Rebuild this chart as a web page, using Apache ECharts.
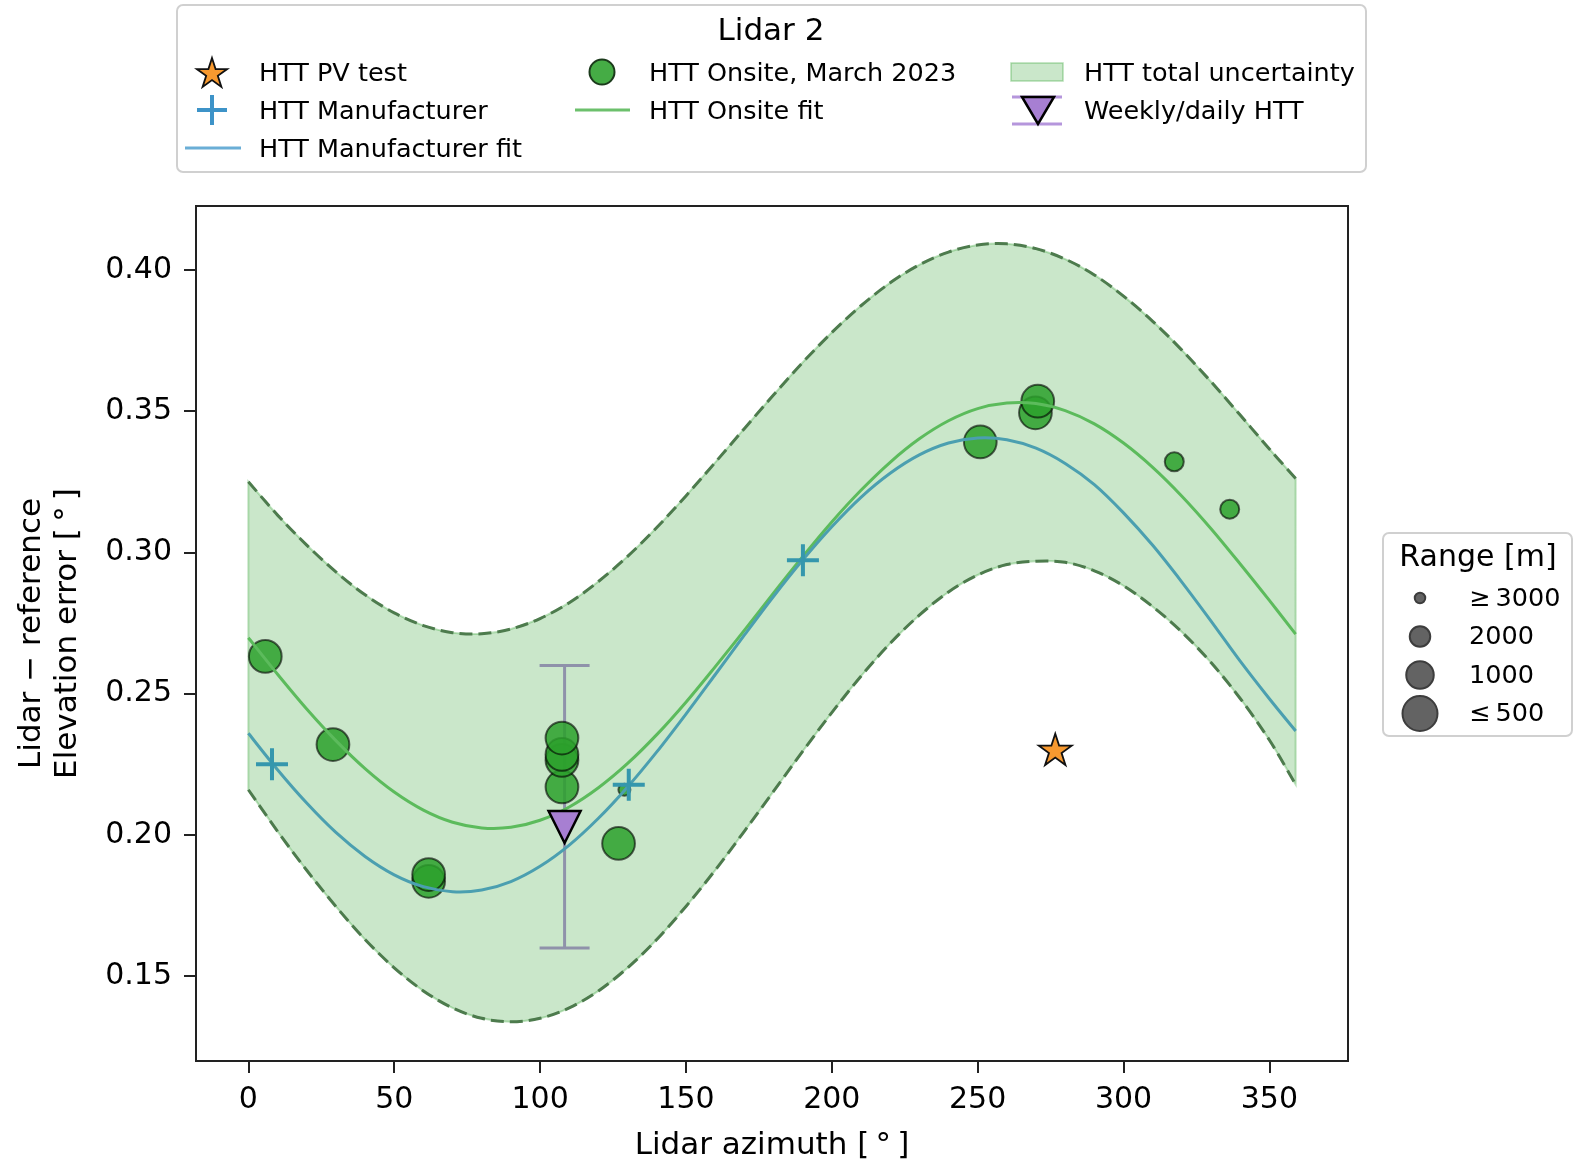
<!DOCTYPE html>
<html>
<head>
<meta charset="utf-8">
<title>Lidar 2 – elevation error vs azimuth</title>
<script src="https://cdn.jsdelivr.net/npm/echarts@6/dist/echarts.min.js"></script>
<style>
  html, body { margin: 0; padding: 0; background: #ffffff; }
  #chart { width: 1587px; height: 1166px; }
</style>
</head>
<body>
<div id="chart"></div>
<script>
// ---- data -------------------------------------------------------------
// azimuth grid on which the fitted curves and the uncertainty band are given [deg]
const azimuthGrid = [0, 10, 20, 30, 40, 50, 60, 70, 80, 90, 100, 110, 120, 130, 140, 150, 160, 170,
                     180, 190, 200, 210, 220, 230, 240, 250, 260, 270, 280, 290, 300, 310, 320,
                     330, 340, 350, 359];
const onsiteFit = [0.2698, 0.2569, 0.2446, 0.2334, 0.2235, 0.2152, 0.2088, 0.2045, 0.2025, 0.2027,
                   0.2052, 0.2099, 0.2167, 0.2253, 0.2355, 0.2470, 0.2595, 0.2724, 0.2856, 0.2985,
                   0.3108, 0.3220, 0.3319, 0.3402, 0.3466, 0.3509, 0.3529, 0.3527, 0.3502, 0.3455,
                   0.3387, 0.3301, 0.3199, 0.3084, 0.2959, 0.2830, 0.2711];
const manufacturerFit = [0.2360, 0.2231, 0.2113, 0.2009, 0.1924, 0.1859, 0.1817, 0.1799, 0.1805, 0.1835,
                         0.1889, 0.1964, 0.2059, 0.2170, 0.2294, 0.2428, 0.2567, 0.2707, 0.2844, 0.2973,
                         0.3091, 0.3195, 0.3280, 0.3345, 0.3387, 0.3405, 0.3399, 0.3369, 0.3315, 0.3240,
                         0.3140, 0.3025, 0.2895, 0.2757, 0.2615, 0.2482, 0.2368];
const uncertaintyUpper = [0.3250, 0.3132, 0.3026, 0.2931, 0.2850, 0.2786, 0.2741, 0.2716, 0.2712, 0.2729,
                          0.2766, 0.2822, 0.2897, 0.2986, 0.3088, 0.3200, 0.3318, 0.3438, 0.3557, 0.3672,
                          0.3778, 0.3873, 0.3954, 0.4018, 0.4063, 0.4088, 0.4092, 0.4075, 0.4038, 0.3982,
                          0.3907, 0.3818, 0.3716, 0.3604, 0.3486, 0.3366, 0.3262];
const uncertaintyLower = [0.2160, 0.2013, 0.1875, 0.1747, 0.1630, 0.1530, 0.1448, 0.1388, 0.1351, 0.1339,
                          0.1351, 0.1388, 0.1448, 0.1530, 0.1630, 0.1747, 0.1875, 0.2013, 0.2154, 0.2296,
                          0.2433, 0.2562, 0.2678, 0.2778, 0.2860, 0.2920, 0.2957, 0.2969, 0.2965, 0.2935,
                          0.2882, 0.2808, 0.2718, 0.2610, 0.2483, 0.2336, 0.2179];

// HTT onsite measurements, March 2023
const onsiteAzimuth = [5.8, 29.0, 61.8, 61.8, 107.5, 107.5, 107.5, 107.5, 126.9, 128.9,
                       250.9, 269.8, 270.6, 317.4, 336.4];
const onsiteError = [0.2632, 0.2320, 0.1836, 0.1860, 0.2170, 0.2264, 0.2285, 0.2343, 0.1970, 0.2160,
                     0.3391, 0.3494, 0.3535, 0.3321, 0.3153];
const onsiteRange = [650, 650, 650, 650, 650, 650, 650, 650, 650, 2850,
                     650, 650, 650, 2150, 2150];

// HTT manufacturer measurements
const manufacturerAzimuth = [8.1, 130.4, 190.1];
const manufacturerError = [0.2250, 0.2178, 0.2972];

// HTT PV test
const pvTestAzimuth = [276.6];
const pvTestError = [0.2303];

// weekly/daily HTT with its spread
const weeklyAzimuth = [108.4];
const weeklyError = [0.2028];
const weeklyLow = [0.16];
const weeklyHigh = [0.26];

// axis ticks
const xTicks = [0, 50, 100, 150, 200, 250, 300, 350];
const yTicks = [0.15, 0.20, 0.25, 0.30, 0.35, 0.40];

// range legend entries [m]
const rangeLegendValues = [3000, 2000, 1000, 500];
const rangeLegendLabels = ['\u2265\u20093000', '2000', '1000', '\u2264\u2009500'];

// ---- helpers ----------------------------------------------------------
const FONT = 'DejaVu Sans';
const zip = (xs, ys) => xs.map((x, i) => [x, ys[i]]);

// marker diameter (px) as a function of measurement range
const sizeStops = [[500, 35], [1000, 27.5], [2000, 20.5], [3000, 10.5]];
function rangeToSize(r) {
  if (r <= sizeStops[0][0]) return sizeStops[0][1];
  for (let i = 1; i < sizeStops.length; i++) {
    const [r0, s0] = sizeStops[i - 1], [r1, s1] = sizeStops[i];
    if (r <= r1) return s0 + (s1 - s0) * (r - r0) / (r1 - r0);
  }
  return sizeStops[sizeStops.length - 1][1];
}

// five-pointed star vertices around (cx, cy) with outer radius R
function starPoints(cx, cy, R) {
  const pts = [];
  for (let k = 0; k < 10; k++) {
    const rad = k % 2 === 0 ? R : R * 0.382;
    const a = (-90 + 36 * k) * Math.PI / 180;
    pts.push([cx + rad * Math.cos(a), cy + rad * Math.sin(a)]);
  }
  return pts;
}
const STAR = 'M' + starPoints(0, 0, 50).map(p => p[0].toFixed(2) + ',' + p[1].toFixed(2)).join('L') + 'Z';
const PLUS = 'M14,0H18V14H32V18H18V32H14V18H0V14H14Z';

// cubic Bezier segments (Catmull-Rom) through screen points, starting at pts[0]
function curveSegments(pts) {
  let d = '';
  const n = pts.length;
  for (let i = 0; i < n - 1; i++) {
    const p0 = pts[Math.max(i - 1, 0)], p1 = pts[i], p2 = pts[i + 1], p3 = pts[Math.min(i + 2, n - 1)];
    const c1x = p1[0] + (p2[0] - p0[0]) / 6, c1y = p1[1] + (p2[1] - p0[1]) / 6;
    const c2x = p2[0] - (p3[0] - p1[0]) / 6, c2y = p2[1] - (p3[1] - p1[1]) / 6;
    d += 'C' + [c1x, c1y, c2x, c2y, p2[0], p2[1]].map(v => v.toFixed(2)).join(',');
  }
  return d;
}

const C = {
  band: 'rgba(44,160,44,0.25)',
  bandEdge: 'rgba(44,160,44,0.3)',
  dash: '#4d7b4d',
  onsite: 'rgba(44,160,44,0.85)',
  onsiteEdge: 'rgba(0,0,0,0.6)',
  onsiteFit: '#5cbb5c',
  manufFit: '#4b9fb0',
  manufFitLegend: '#6aaed6',
  plus: '#3597ad',
  plusLegend: '#3d93c8',
  star: '#f7992f',
  tri: '#a77fd2',
  errbar: '#8f92aa',
  errbarLegend: '#b596dc'
};

// smooth curve through (azimuthGrid, ys), placed with the chart's own axes
function curveSeries(name, ys, style, z) {
  const data = zip(azimuthGrid, ys);
  return {
    name, type: 'custom', z, silent: true, data, encode: { x: 0, y: 1 },
    renderItem(params, api) {
      if (params.dataIndex !== 0) return null;
      const pts = data.map(d => api.coord(d));
      return {
        type: 'path',
        shape: { pathData: 'M' + pts[0][0].toFixed(2) + ',' + pts[0][1].toFixed(2) + curveSegments(pts) },
        style: Object.assign({ fill: 'none' }, style)
      };
    }
  };
}

// ---- chart ------------------------------------------------------------
const chart = echarts.init(document.getElementById('chart'), null, { renderer: 'canvas' });

const bandData = azimuthGrid.map((x, i) => [x, uncertaintyLower[i], uncertaintyUpper[i]]);

const series = [
  {
    name: 'HTT total uncertainty', type: 'custom', z: 1, silent: true,
    data: bandData, encode: { x: 0, y: [1, 2] },
    renderItem(params, api) {
      if (params.dataIndex !== 0) return null;
      const up = bandData.map(d => api.coord([d[0], d[2]]));
      const lo = bandData.map(d => api.coord([d[0], d[1]])).reverse();
      const pathData = 'M' + up[0][0].toFixed(2) + ',' + up[0][1].toFixed(2) + curveSegments(up) +
        'L' + lo[0][0].toFixed(2) + ',' + lo[0][1].toFixed(2) + curveSegments(lo) + 'Z';
      return {
        type: 'path', shape: { pathData },
        style: { fill: C.band, stroke: C.bandEdge, lineWidth: 2 }
      };
    }
  },
  curveSeries('band-upper', uncertaintyUpper, { stroke: C.dash, lineWidth: 3, lineDash: [13, 6] }, 2),
  curveSeries('band-lower', uncertaintyLower, { stroke: C.dash, lineWidth: 3, lineDash: [13, 6] }, 2),
  {
    name: 'Weekly/daily spread', type: 'custom', z: 3,
    data: weeklyAzimuth.map((x, i) => [x, weeklyLow[i], weeklyHigh[i]]),
    encode: { x: 0, y: [1, 2] },
    renderItem(params, api) {
      const x = api.value(0);
      const pLo = api.coord([x, api.value(1)]);
      const pHi = api.coord([x, api.value(2)]);
      const cap = 25;
      const style = { stroke: C.errbar, lineWidth: 3, fill: null };
      return {
        type: 'group',
        children: [
          { type: 'line', shape: { x1: pLo[0], y1: pLo[1], x2: pHi[0], y2: pHi[1] }, style },
          { type: 'line', shape: { x1: pLo[0] - cap, y1: pLo[1], x2: pLo[0] + cap, y2: pLo[1] }, style },
          { type: 'line', shape: { x1: pHi[0] - cap, y1: pHi[1], x2: pHi[0] + cap, y2: pHi[1] }, style }
        ]
      };
    }
  },
  {
    name: 'HTT Onsite, March 2023', type: 'scatter', z: 4,
    data: onsiteAzimuth.map((x, i) => [x, onsiteError[i], onsiteRange[i]]),
    symbol: 'circle',
    symbolSize: v => rangeToSize(v[2]),
    itemStyle: { color: C.onsite, borderColor: C.onsiteEdge, borderWidth: 2, opacity: 1 }
  },
  curveSeries('HTT Onsite fit', onsiteFit, { stroke: C.onsiteFit, lineWidth: 3 }, 5),
  curveSeries('HTT Manufacturer fit', manufacturerFit, { stroke: C.manufFit, lineWidth: 3 }, 5),
  {
    name: 'HTT Manufacturer', type: 'scatter', z: 6,
    data: zip(manufacturerAzimuth, manufacturerError),
    symbol: 'path://' + PLUS, symbolSize: 32,
    itemStyle: { color: C.plus, opacity: 1 }
  },
  {
    name: 'Weekly/daily HTT', type: 'scatter', z: 7,
    data: zip(weeklyAzimuth, weeklyError),
    symbol: 'triangle', symbolRotate: 180, symbolSize: [32, 32],
    itemStyle: { color: C.tri, borderColor: '#000', borderWidth: 2.5, opacity: 1 }
  },
  {
    name: 'HTT PV test', type: 'scatter', z: 7,
    data: zip(pvTestAzimuth, pvTestError),
    symbol: 'path://' + STAR, symbolSize: [33, 31.4],
    itemStyle: { color: C.star, borderColor: '#111', borderWidth: 1.8, opacity: 1 }
  }
];

// ---- legend (drawn as graphic elements) --------------------------------
const legendFont = '25.5px "' + FONT + '"';
const rows = [72, 110, 148];
const textRows = [74, 112, 150];
const cols = [{ m: 212, t: 259 }, { m: 602, t: 649 }, { m: 1037, t: 1084 }];
const legendText = (x, y, s) => ({
  type: 'text', x, y, z: 100,
  style: { text: s, font: legendFont, fill: '#000', align: 'left', verticalAlign: 'middle' }
});
const hLine = (x1, x2, y, color, w) => ({
  type: 'line', z: 100, shape: { x1, y1: y, x2, y2: y }, style: { stroke: color, lineWidth: w }
});

const graphic = [
  // main legend frame
  { type: 'rect', z: 99, shape: { x: 177, y: 5, width: 1189, height: 167, r: 6 },
    style: { fill: '#fff', stroke: '#d0d0d0', lineWidth: 2 } },
  { type: 'text', x: 771, y: 32, z: 100,
    style: { text: 'Lidar 2', font: '31px "' + FONT + '"', fill: '#000', align: 'center', verticalAlign: 'middle' } },
  // column 1
  { type: 'polygon', z: 100, shape: { points: starPoints(cols[0].m, rows[0] + 2, 16) },
    style: { fill: C.star, stroke: '#111', lineWidth: 1.8 } },
  legendText(cols[0].t, textRows[0], 'HTT PV test'),
  { type: 'rect', z: 100, shape: { x: cols[0].m - 2, y: rows[1] - 15, width: 4, height: 30 }, style: { fill: C.plusLegend } },
  { type: 'rect', z: 100, shape: { x: cols[0].m - 15, y: rows[1] - 2, width: 30, height: 4 }, style: { fill: C.plusLegend } },
  legendText(cols[0].t, textRows[1], 'HTT Manufacturer'),
  hLine(185, 241, rows[2], C.manufFitLegend, 3),
  legendText(cols[0].t, textRows[2], 'HTT Manufacturer fit'),
  // column 2
  { type: 'circle', z: 100, shape: { cx: cols[1].m, cy: rows[0], r: 12.5 },
    style: { fill: '#45ac45', stroke: '#1b3a1b', lineWidth: 2 } },
  legendText(cols[1].t, textRows[0], 'HTT Onsite, March 2023'),
  hLine(575, 630, rows[1], '#6cc06c', 3),
  legendText(cols[1].t, textRows[1], 'HTT Onsite fit'),
  // column 3
  { type: 'rect', z: 100, shape: { x: 1011, y: 63, width: 52, height: 18 },
    style: { fill: '#cae7ca', stroke: 'rgba(44,160,44,0.35)', lineWidth: 1.5 } },
  legendText(cols[2].t, textRows[0], 'HTT total uncertainty'),
  hLine(1012, 1062, 97, C.errbarLegend, 3),
  hLine(1012, 1062, 124, C.errbarLegend, 3),
  { type: 'polygon', z: 101, shape: { points: [[1022, 97], [1054, 97], [1038, 124]] },
    style: { fill: C.tri, stroke: '#000', lineWidth: 2.5 } },
  legendText(cols[2].t, textRows[1], 'Weekly/daily HTT'),
  // range legend frame
  { type: 'rect', z: 99, shape: { x: 1383, y: 533, width: 189, height: 203, r: 6 },
    style: { fill: '#fff', stroke: '#d0d0d0', lineWidth: 2 } },
  { type: 'text', x: 1478, y: 558, z: 100,
    style: { text: 'Range [m]', font: '30px "' + FONT + '"', fill: '#000', align: 'center', verticalAlign: 'middle' } }
];
const rangeRowsY = [598, 636.5, 675, 713.5];
rangeLegendValues.forEach((r, i) => {
  graphic.push({ type: 'circle', z: 100, shape: { cx: 1420, cy: rangeRowsY[i], r: rangeToSize(r) / 2 },
    style: { fill: '#636363', stroke: '#3d3d3d', lineWidth: 2 } });
  graphic.push({ type: 'text', x: 1469, y: rangeRowsY[i] + 1, z: 100,
    style: { text: rangeLegendLabels[i], font: legendFont, fill: '#000', align: 'left', verticalAlign: 'middle' } });
});

const axisText = { fontFamily: FONT, fontSize: 30, color: '#000' };

chart.setOption({
  animation: false,
  backgroundColor: '#fff',
  grid: {
    left: 196, top: 206, width: 1152, height: 857,
    show: true, borderColor: '#222', borderWidth: 2, backgroundColor: 'transparent'
  },
  xAxis: {
    type: 'value', min: -17.95, max: 376.95, z: 10,
    axisLine: { show: true, onZero: false, lineStyle: { color: '#222', width: 2 } },
    axisTick: { show: true, inside: false, length: 12, customValues: xTicks, lineStyle: { color: '#222', width: 2 } },
    axisLabel: { ...axisText, margin: 24, customValues: xTicks },
    splitLine: { show: false },
    name: 'Lidar azimuth [\u2009\u00b0\u2009]', nameLocation: 'middle', nameGap: 69,
    nameTextStyle: { fontFamily: FONT, fontSize: 31, color: '#000' }
  },
  yAxis: {
    type: 'value', min: 0.1200, max: 0.4226, z: 10,
    axisLine: { show: true, onZero: false, lineStyle: { color: '#222', width: 2 } },
    axisTick: { show: true, inside: false, length: 12, customValues: yTicks, lineStyle: { color: '#222', width: 2 } },
    axisLabel: { ...axisText, margin: 24, customValues: yTicks, formatter: v => v.toFixed(2) },
    splitLine: { show: false },
    name: 'Lidar \u2212 reference\nElevation error [\u2009\u00b0\u2009]', nameLocation: 'middle', nameGap: 110,
    nameRotate: 90,
    nameTextStyle: { fontFamily: FONT, fontSize: 31, color: '#000', lineHeight: 36, align: 'center' }
  },
  series,
  graphic
});
</script>
</body>
</html>
